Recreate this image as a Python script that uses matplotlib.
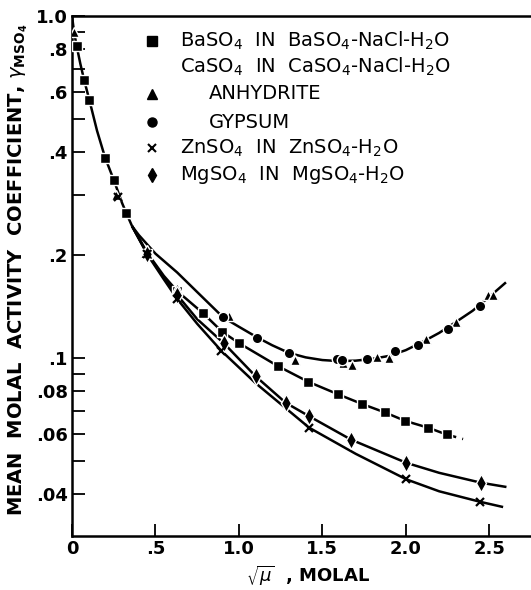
import matplotlib
matplotlib.use("Agg")
import matplotlib.pyplot as plt
from matplotlib.lines import Line2D
import numpy as np

# ---------------- data ----------------
# smooth curves (read vertices)
trunk_x = [0.0, 0.012, 0.028, 0.05, 0.072, 0.104, 0.15, 0.198, 0.251, 0.30, 0.323, 0.36]
trunk_y = [1.0, 0.90, 0.817, 0.725, 0.652, 0.568, 0.462, 0.386, 0.331, 0.284, 0.267, 0.243]

caso4_x = [0.36, 0.40, 0.50, 0.63, 0.75, 0.906, 1.0, 1.109, 1.2, 1.301, 1.4, 1.5, 1.6, 1.7,
           1.8, 1.9, 2.0, 2.1, 2.2, 2.3, 2.4, 2.5, 2.6]
caso4_y = [0.243, 0.229, 0.202, 0.178, 0.156, 0.1315, 0.1235, 0.115, 0.109, 0.1035, 0.1005,
           0.0987, 0.098, 0.0983, 0.0995, 0.1015, 0.1055, 0.1115, 0.1185, 0.1275, 0.1375,
           0.151, 0.1665]

baso4_x = [0.36, 0.451, 0.55, 0.63, 0.782, 0.90, 1.002, 1.233, 1.415, 1.591, 1.739, 1.874,
           1.998, 2.134, 2.244]
baso4_y = [0.243, 0.203, 0.174, 0.157, 0.1357, 0.1194, 0.1105, 0.0948, 0.0853, 0.0785,
           0.0734, 0.0694, 0.0655, 0.0626, 0.0598]
baso4_dash_x = [2.244, 2.343]
baso4_dash_y = [0.0598, 0.0580]

mgso4_x = [0.36, 0.451, 0.55, 0.63, 0.75, 0.91, 1.10, 1.281, 1.419, 1.671, 2.004, 2.2,
           2.453, 2.603]
mgso4_y = [0.243, 0.202, 0.172, 0.153, 0.130, 0.1105, 0.0885, 0.0740, 0.0677, 0.0578,
           0.0494, 0.0462, 0.0432, 0.0420]

znso4_x = [0.36, 0.451, 0.55, 0.63, 0.75, 0.895, 1.10, 1.421, 1.7, 2.004, 2.2, 2.447, 2.583]
znso4_y = [0.243, 0.201, 0.170, 0.149, 0.126, 0.105, 0.0845, 0.0626, 0.0525, 0.0442,
           0.0408, 0.0380, 0.0367]

# measured points
sq_x = [0.028, 0.072, 0.104, 0.198, 0.251, 0.323, 0.451, 0.63, 0.782, 0.90, 1.002, 1.233,
        1.415, 1.591, 1.739, 1.874, 1.998, 2.134, 2.244]
sq_y = [0.817, 0.650, 0.568, 0.384, 0.331, 0.266, 0.202, 0.157, 0.1357, 0.1194, 0.1105,
        0.0948, 0.0853, 0.0785, 0.0734, 0.0694, 0.0655, 0.0626, 0.0598]

tri_x = [0.012, 0.263, 0.437, 0.63, 0.942, 1.335, 1.625, 1.675, 1.825, 1.90, 2.12, 2.299,
         2.493, 2.523]
tri_y = [0.895, 0.300, 0.203, 0.160, 0.133, 0.099, 0.0965, 0.0955, 0.1005, 0.0998, 0.1139,
         0.1277, 0.1528, 0.1528]

circ_x = [0.906, 1.109, 1.301, 1.585, 1.615, 1.770, 1.936, 2.074, 2.254, 2.447]
circ_y = [0.1315, 0.1147, 0.1036, 0.0991, 0.0986, 0.0993, 0.1051, 0.1089, 0.1213, 0.1422]

x_x = [0.277, 0.451, 0.63, 0.895, 1.421, 2.004, 2.447]
x_y = [0.296, 0.201, 0.149, 0.105, 0.0626, 0.0442, 0.0380]

dia_x = [0.451, 0.63, 0.91, 1.10, 1.281, 1.419, 1.671, 2.004, 2.453]
dia_y = [0.202, 0.153, 0.1105, 0.0885, 0.0740, 0.0677, 0.0578, 0.0494, 0.0432]

xticks = [0, 0.5, 1.0, 1.5, 2.0, 2.5]
xtick_labels = ["0", ".5", "1.0", "1.5", "2.0", "2.5"]
yticks_major = [1.0, 0.8, 0.6, 0.4, 0.2, 0.1, 0.08, 0.06, 0.04]
ytick_labels = ["1.0", ".8", ".6", ".4", ".2", ".1", ".08", ".06", ".04"]
yticks_minor = [0.9, 0.7, 0.5, 0.3, 0.09, 0.07, 0.05]

legend_labels = [r"BaSO$_4$  IN  BaSO$_4$-NaCl-H$_2$O",
                 r"CaSO$_4$  IN  CaSO$_4$-NaCl-H$_2$O",
                 "ANHYDRITE",
                 "GYPSUM",
                 r"ZnSO$_4$  IN  ZnSO$_4$-H$_2$O",
                 r"MgSO$_4$  IN  MgSO$_4$-H$_2$O"]

# ---------------- figure ----------------
W, H = 531, 590
fig = plt.figure(figsize=(W / 100, H / 100), dpi=100)
ax = fig.add_axes([72 / W, 1 - 536 / H, (531 - 72) / W, (536 - 16) / H])
ax.set_yscale("log")
ax.set_xlim(0, 2.75)
ax.set_ylim(0.0302, 1.0)

lw = 1.8
k = "black"
for cx, cy in [(trunk_x, trunk_y), (caso4_x, caso4_y), (baso4_x, baso4_y),
               (mgso4_x, mgso4_y), (znso4_x, znso4_y)]:
    ax.plot(cx, cy, color=k, lw=lw, solid_capstyle="butt", zorder=2)
ax.plot(baso4_dash_x, baso4_dash_y, color=k, lw=lw, ls=(0, (4, 2.5)), zorder=2)

mk = dict(ls="none", color=k, mec="white", mew=1.0, zorder=3)
ax.plot(sq_x, sq_y, marker="s", ms=7, **mk)
ax.plot(tri_x, tri_y, marker="^", ms=7.5, **mk)
ax.plot(circ_x, circ_y, marker="o", ms=7.5, **mk)
ax.plot(dia_x, dia_y, marker="d", ms=9, **mk)
ax.plot(x_x, x_y, marker="x", ms=6, ls="none", color=k, mew=1.6, zorder=3)

# axes styling
for s in ["left", "bottom", "top"]:
    ax.spines[s].set_linewidth(1.8)
ax.spines["right"].set_visible(False)
ax.set_xticks(xticks)
ax.set_xticklabels(xtick_labels)
ax.set_yticks(yticks_major)
ax.set_yticklabels(ytick_labels)
ax.set_yticks(yticks_minor, minor=True)
ax.yaxis.set_minor_formatter(matplotlib.ticker.NullFormatter())
ax.xaxis.set_minor_locator(matplotlib.ticker.NullLocator())
ax.tick_params(axis="both", which="both", direction="in", length=9, width=1.3,
               labelsize=13, top=False, right=False)
ax.tick_params(axis="y", pad=3)
ax.tick_params(axis="x", pad=3)
for t in ax.get_xticklabels() + ax.get_yticklabels():
    t.set_fontweight("semibold")

fig.text(18 / W, 1 - 270 / H,
         r"MEAN  MOLAL  ACTIVITY  COEFFICIENT, $\gamma_{\mathbf{MSO_4}}$",
         rotation=90, ha="center", va="center", fontsize=14, fontweight="bold")
fig.text(308 / W, 1 - 576 / H, r"$\sqrt{\mu}$  , MOLAL", ha="center", va="center",
         fontsize=13, fontweight="bold")

# legend (hand placed)
rows_y = [41, 67, 94, 122, 148, 175]
markers = ["s", None, "^", "o", "x", "d"]
text_x = [180, 180, 209, 209, 180, 180]
for yy, m, tx, lab in zip(rows_y, markers, text_x, legend_labels):
    fy = 1 - yy / H
    if m is not None:
        if m == "x":
            fig.add_artist(Line2D([152 / W], [fy], marker="x", ms=5.5, mew=1.5,
                                  color=k, ls="none"))
        else:
            fig.add_artist(Line2D([152 / W], [fy], marker=m,
                                  ms=7 if m == "d" else 6.5, color=k, ls="none"))
    fig.text(tx / W, fy, lab, ha="left", va="center", fontsize=14)

fig.savefig("out.png", dpi=100)
